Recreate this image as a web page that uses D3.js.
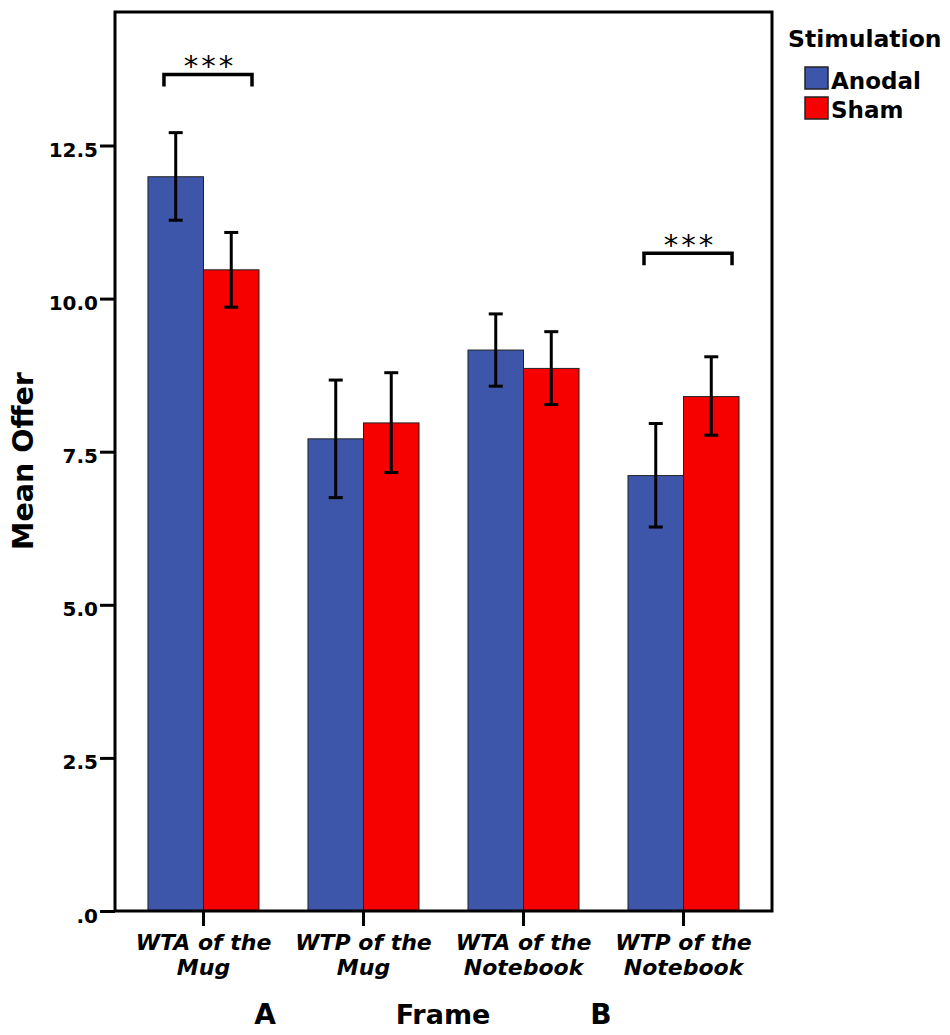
<!DOCTYPE html>
<html>
<head>
<meta charset="utf-8">
<script src="https://cdn.jsdelivr.net/npm/d3@7"></script>
<style>
  body { margin: 0; background: #fff; }
  text { font-family: "DejaVu Sans", sans-serif; font-weight: bold; fill: #000; }
</style>
</head>
<body>
<svg id="chart"></svg>
<script>
// frame categories (two lines each on the axis)
const frames = ['WTA of the Mug', 'WTP of the Mug', 'WTA of the Notebook', 'WTP of the Notebook'];
const frameLines = [['WTA of the', 'Mug'], ['WTP of the', 'Mug'], ['WTA of the', 'Notebook'], ['WTP of the', 'Notebook']];
const groups = ['Anodal', 'Sham'];

// means and error bar ends
const anodalMean = [11.99, 7.71, 9.16, 7.11];
const anodalLow  = [11.28, 6.75, 8.57, 6.27];
const anodalHigh = [12.71, 8.67, 9.75, 7.96];
const shamMean = [10.47, 7.97, 8.86, 8.40];
const shamLow  = [9.86, 7.16, 8.27, 7.77];
const shamHigh = [11.08, 8.79, 9.46, 9.05];

const yTicks = [0, 2.5, 5, 7.5, 10, 12.5];

// significance brackets: which frame and at what level
const sigFrames = ['WTA of the Mug', 'WTP of the Notebook'];
const sigLevels = [13.66, 10.74];
const sigLabels = ['***', '***'];

const colors = { Anodal: '#3e56a9', Sham: '#f60000' };

const config = {
  width: 950, height: 1035,
  left: 115, right: 772, top: 12, bottom: 911
};

const svg = d3.select('#chart')
  .attr('width', config.width)
  .attr('height', config.height);

const x = d3.scaleBand()
  .domain(frames)
  .range([config.left, config.right])
  .paddingInner(0.306)
  .paddingOuter(0.206);

const xSub = d3.scaleBand()
  .domain(groups)
  .range([0, x.bandwidth()]);

const y = d3.scaleLinear()
  .domain([0, 14.68])
  .range([config.bottom, config.top]);

// build rows from the arrays
let rows = [];
frames.forEach(function (f, i) {
  rows.push({ frame: f, group: 'Anodal', mean: anodalMean[i], low: anodalLow[i], high: anodalHigh[i] });
  rows.push({ frame: f, group: 'Sham', mean: shamMean[i], low: shamLow[i], high: shamHigh[i] });
});

// bars
svg.append('g').selectAll('rect')
  .data(rows)
  .join('rect')
  .attr('x', d => x(d.frame) + xSub(d.group))
  .attr('y', d => y(d.mean))
  .attr('width', xSub.bandwidth())
  .attr('height', d => y(0) - y(d.mean))
  .attr('fill', d => colors[d.group])
  .attr('stroke', '#222')
  .attr('stroke-width', 1);

// error bars
const err = svg.append('g').attr('stroke', '#000').attr('stroke-width', 3);
rows.forEach(function (d) {
  let cx = x(d.frame) + xSub(d.group) + xSub.bandwidth() / 2;
  err.append('line').attr('x1', cx).attr('x2', cx).attr('y1', y(d.low)).attr('y2', y(d.high));
  err.append('line').attr('x1', cx - 7).attr('x2', cx + 7).attr('y1', y(d.low)).attr('y2', y(d.low));
  err.append('line').attr('x1', cx - 7).attr('x2', cx + 7).attr('y1', y(d.high)).attr('y2', y(d.high));
});

// y axis
const fmt = v => d3.format('.1f')(v).replace(/^0/, '');
const yAxis = svg.append('g')
  .attr('transform', `translate(${config.left},0)`)
  .call(d3.axisLeft(y).tickValues(yTicks).tickFormat(fmt).tickSize(15).tickPadding(2));
yAxis.select('.domain').remove();
yAxis.selectAll('line').attr('stroke', '#000').attr('stroke-width', 3);
yAxis.selectAll('text')
  .attr('dy', '0.55em')
  .style('font-size', '20px')
  .style('font-family', '"DejaVu Sans", sans-serif')
  .style('font-weight', 'bold')
  .attr('fill', '#000');

// x axis
const xAxis = svg.append('g')
  .attr('transform', `translate(0,${config.bottom})`)
  .call(d3.axisBottom(x).tickSize(15).tickFormat(''));
xAxis.select('.domain').remove();
xAxis.selectAll('line').attr('stroke', '#000').attr('stroke-width', 3);
xAxis.selectAll('.tick').each(function (d, i) {
  let t = d3.select(this).append('text')
    .attr('text-anchor', 'middle')
    .style('font-size', '22px')
    .style('font-style', 'italic')
    .style('font-weight', 'bold')
    .style('font-family', '"DejaVu Sans", sans-serif')
    .attr('fill', '#000');
  frameLines[i].forEach(function (line, j) {
    t.append('tspan').attr('x', 0).attr('y', 39 + j * 25).text(line);
  });
});

// plot frame
svg.append('rect')
  .attr('x', config.left)
  .attr('y', config.top)
  .attr('width', config.right - config.left)
  .attr('height', config.bottom - config.top)
  .attr('fill', 'none')
  .attr('stroke', '#000')
  .attr('stroke-width', 3);

// significance brackets
sigFrames.forEach(function (f, i) {
  let x0 = x(f) + 16;
  let x1 = x(f) + x.bandwidth() - 7;
  let yy = y(sigLevels[i]);
  svg.append('path')
    .attr('d', `M${x0},${yy + 12}V${yy}H${x1}V${yy + 12}`)
    .attr('fill', 'none')
    .attr('stroke', '#000')
    .attr('stroke-width', 3.5);
  svg.append('text')
    .attr('x', (x0 + x1) / 2 + 2)
    .attr('y', yy + 2)
    .attr('text-anchor', 'middle')
    .style('font-size', '29px')
    .style('font-weight', 'normal')
    .style('letter-spacing', '3px')
    .text(sigLabels[i]);
});

// axis titles
svg.append('text')
  .attr('transform', `translate(33,461) rotate(-90)`)
  .attr('text-anchor', 'middle')
  .style('font-size', '28.5px')
  .text('Mean Offer');

svg.append('text')
  .attr('x', 443)
  .attr('y', 1024)
  .attr('text-anchor', 'middle')
  .style('font-size', '27px')
  .text('Frame');

svg.append('text').attr('x', 265).attr('y', 1024).attr('text-anchor', 'middle')
  .style('font-size', '28px').text('A');
svg.append('text').attr('x', 601).attr('y', 1024).attr('text-anchor', 'middle')
  .style('font-size', '28px').text('B');

// legend
const legend = svg.append('g');
legend.append('text')
  .attr('x', 788)
  .attr('y', 47)
  .style('font-size', '23.5px')
  .text('Stimulation');
groups.forEach(function (g, i) {
  legend.append('rect')
    .attr('x', 805)
    .attr('y', 67 + i * 30)
    .attr('width', 23)
    .attr('height', 22)
    .attr('fill', colors[g])
    .attr('stroke', '#222')
    .attr('stroke-width', 1.5);
  legend.append('text')
    .attr('x', 831)
    .attr('y', 89 + i * 29)
    .style('font-size', '23px')
    .text(g);
});
</script>
</body>
</html>
